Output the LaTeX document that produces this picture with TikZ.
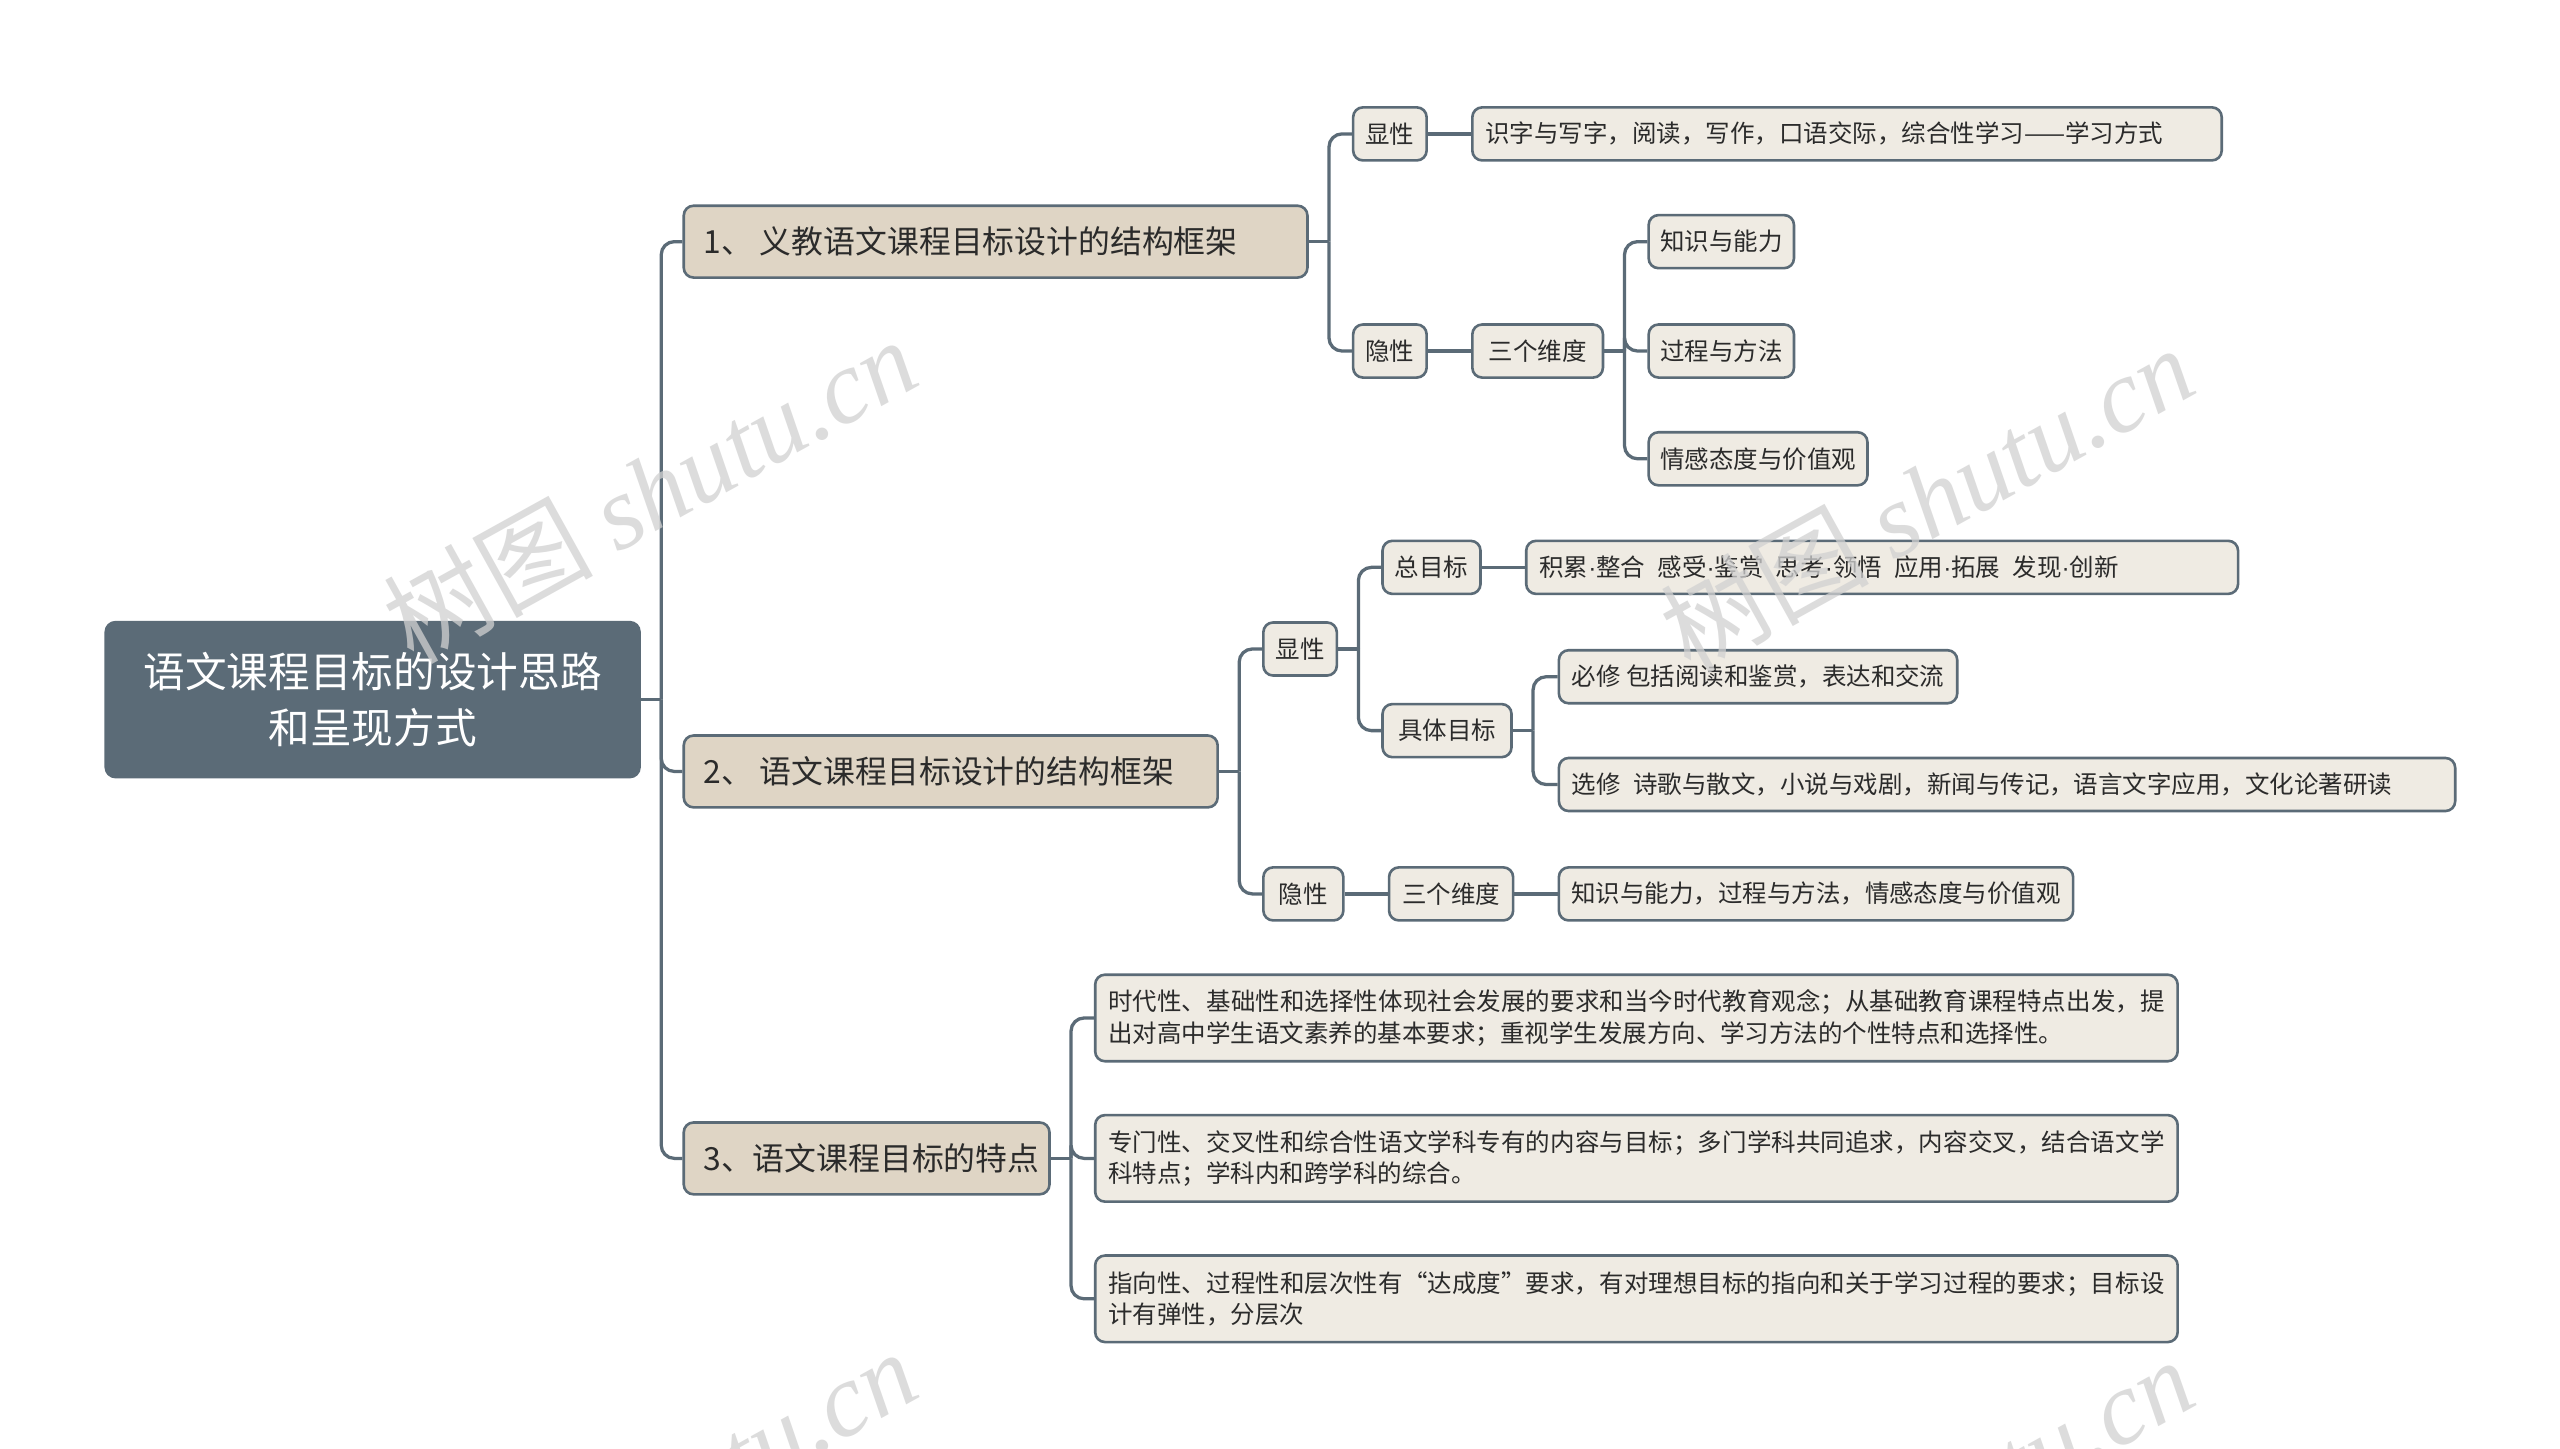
\documentclass[tikz,border=0pt]{standalone}
\usepackage{fontspec}
\setmainfont{Noto Sans CJK SC}
\newfontfamily\wmfont{Liberation Serif}
\newfontfamily\latinf{Liberation Sans}
\definecolor{slate}{HTML}{5B6B77}
\definecolor{lvlone}{HTML}{DFD5C5}
\definecolor{leaf}{HTML}{EFEBE3}
\definecolor{txt}{HTML}{2B2B2B}
\newcommand\zhbrk{\XeTeXlinebreaklocale "zh"\XeTeXlinebreakskip=0pt plus 3pt\relax}
\newcommand\lfit[2]{\makebox[#1pt][l]{#2}}
\newcommand\md{{\latinf ·}}
\begin{document}
\begin{tikzpicture}[x=1pt,y=-1pt,
  every node/.style={inner sep=0pt},
  rootbox/.style={draw=slate, fill=slate, rounded corners=6pt, line width=1.5pt, text=white,
    font=\fontsize{25.5}{34}\selectfont, align=center, minimum width=327pt, minimum height=95pt, anchor=west},
  lonebox/.style={draw=slate, fill=lvlone, rounded corners=6pt, line width=1.6pt, text=txt,
    font=\fontsize{19.5}{24}\selectfont, minimum height=44pt, anchor=west, inner xsep=12pt},
  leafc/.style={draw=slate, fill=leaf, rounded corners=6pt, line width=1.6pt, text=txt,
    font=\fontsize{15}{19}\selectfont, minimum height=32.5pt, anchor=west},
  leafl/.style={leafc, inner xsep=8pt},
  longbox/.style={draw=slate, fill=leaf, rounded corners=6pt, line width=1.6pt, text=txt,
    font=\fontsize{15}{19}\selectfont\zhbrk, minimum height=53pt, anchor=west,
    inner xsep=8pt, text width=647pt, align=justify},
  conn/.style={draw=slate, line width=2pt},
  rc/.style={rounded corners=8pt},
  wm/.style={text=black!18, text opacity=0.75, font=\fontsize{64}{66}\selectfont, rotate=29}
]
\fill[white] (0,0) rectangle (1568,887);
\useasboundingbox (0,0) rectangle (1568,887);

% root
\node[rootbox] (root) at (64,428.5) {语文课程目标的设计思路\\和呈现方式};

% level 1
\node[lonebox] (a) at (418,148) {\lfit{358}{1、 义教语文课程目标设计的结构框架}};
\node[lonebox] (b) at (418,472.5) {\lfit{303}{2、 语文课程目标设计的结构框架}};
\node[lonebox] (c) at (418,709.5) {\lfit{200}{3、语文课程目标的特点}};

% branch 1
\node[leafc, minimum width=45pt] (a1) at (828,82) {显性};
\node[leafl] (a1x) at (901,82) {\lfit{443}{识字与写字，阅读，写作，口语交际，综合性学习——学习方式}};
\node[leafc, minimum width=45pt] (a2) at (828,215) {隐性};
\node[leafc, minimum width=80pt] (a2d) at (901,215) {三个维度};
\node[leafc, minimum width=89pt] (a2d1) at (1009,148) {知识与能力};
\node[leafc, minimum width=89pt] (a2d2) at (1009,215) {过程与方法};
\node[leafc, minimum width=134pt] (a2d3) at (1009,281) {情感态度与价值观};

% branch 2
\node[leafc, minimum width=45pt] (b1) at (773,397.5) {显性};
\node[leafc, minimum width=60pt] (b1a) at (846,347.5) {总目标};
\node[leafl] (b1ax) at (934,347.5) {\lfit{420}{积累\md 整合\enspace 感受\md 鉴赏\enspace 思考\md 领悟\enspace 应用\md 拓展\enspace 发现\md 创新}};
\node[leafc, minimum width=79pt] (b1b) at (846,447.5) {具体目标};
\node[leafc, minimum width=244pt] (b1b1) at (954,414.5) {必修 包括阅读和鉴赏，表达和交流};
\node[leafl] (b1b2) at (954,480.5) {\lfit{533}{选修\enspace 诗歌与散文，小说与戏剧，新闻与传记，语言文字应用，文化论著研读}};
\node[leafc, minimum width=49pt] (b2) at (773,547.5) {隐性};
\node[leafc, minimum width=76pt] (b2d) at (850,547.5) {三个维度};
\node[leafc, minimum width=315pt] (b2dx) at (954,547.5) {知识与能力，过程与方法，情感态度与价值观};

% branch 3
\node[longbox] (c1) at (670,623.5) {时代性、基础性和选择性体现社会发展的要求和当今时代教育观念；从基础教育课程特点出发，提\linebreak 出对高中学生语文素养的基本要求；重视学生发展方向、学习方法的个性特点和选择性。};
\node[longbox] (c2) at (670,709.5) {专门性、交叉性和综合性语文学科专有的内容与目标；多门学科共同追求，内容交叉，结合语文学\linebreak 科特点；学科内和跨学科的综合。};
\node[longbox] (c3) at (670,795.5) {指向性、过程性和层次性有“达成度”要求，有对理想目标的指向和关于学习过程的要求；目标设\linebreak 计有弹性，分层次};

% connectors
\draw[conn] (root.east) -- (405,428.5);
\foreach \ch in {a,b,c} \draw[conn,rc] (405,428.5) |- (\ch.west);

\draw[conn] (a.east) -- (814,148);
\foreach \ch in {a1,a2} \draw[conn,rc] (814,148) |- (\ch.west);
\draw[conn] (a1.east) -- (a1x.west);
\draw[conn] (a2.east) -- (a2d.west);
\draw[conn] (a2d.east) -- (995,215);
\foreach \ch in {a2d1,a2d2,a2d3} \draw[conn,rc] (995,215) |- (\ch.west);

\draw[conn] (b.east) -- (759,472.5);
\foreach \ch in {b1,b2} \draw[conn,rc] (759,472.5) |- (\ch.west);
\draw[conn] (b1.east) -- (832,397.5);
\foreach \ch in {b1a,b1b} \draw[conn,rc] (832,397.5) |- (\ch.west);
\draw[conn] (b1a.east) -- (b1ax.west);
\draw[conn] (b1b.east) -- (939,447.5);
\foreach \ch in {b1b1,b1b2} \draw[conn,rc] (939,447.5) |- (\ch.west);
\draw[conn] (b2.east) -- (b2d.west);
\draw[conn] (b2d.east) -- (b2dx.west);

\draw[conn] (c.east) -- (656,709.5);
\foreach \ch in {c1,c2,c3} \draw[conn,rc] (656,709.5) |- (\ch.west);

% watermarks
\node[wm] (w1) at (398,300) {树图 {\wmfont\itshape shutu.cn}};
\node[wm] (w2) at (1180,305) {树图 {\wmfont\itshape shutu.cn}};
\node[wm] (w3) at (398,920) {树图 {\wmfont\itshape shutu.cn}};
\node[wm] (w4) at (1180,925) {树图 {\wmfont\itshape shutu.cn}};
\end{tikzpicture}
\end{document}
